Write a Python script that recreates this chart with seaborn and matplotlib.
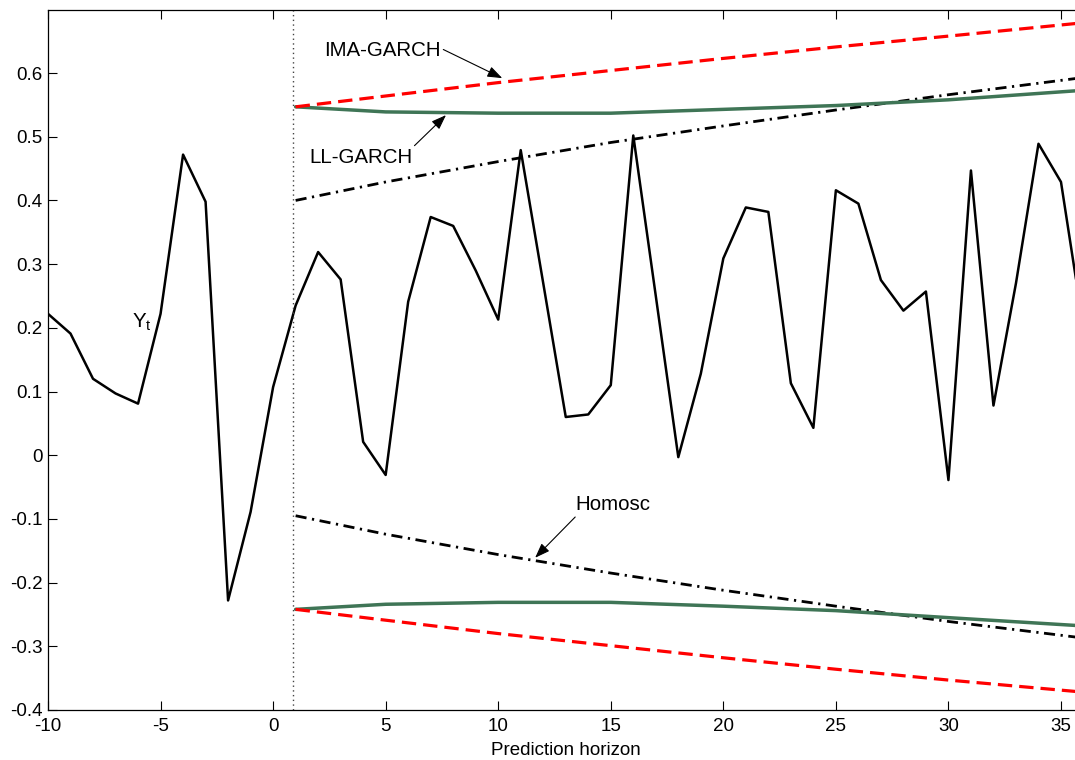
import numpy as np
import pandas as pd
import matplotlib
matplotlib.use("Agg")
import matplotlib.pyplot as plt
import seaborn as sns

# Observed series Y_t, t = -10 ... 36
t_obs = list(range(-10, 37))
y_obs = [0.222, 0.191, 0.120, 0.097, 0.081, 0.222, 0.472, 0.398, -0.228, -0.089,
         0.107, 0.235, 0.319, 0.276, 0.021, -0.031, 0.241, 0.374, 0.360, 0.290,
         0.213, 0.479, 0.270, 0.060, 0.064, 0.110, 0.502, 0.250, -0.003, 0.128,
         0.309, 0.389, 0.382, 0.113, 0.043, 0.416, 0.395, 0.275, 0.227, 0.257,
         -0.039, 0.447, 0.078, 0.270, 0.489, 0.429, 0.200]

# Prediction-interval bounds by forecast horizon
h = [1, 5, 10, 15, 20, 25, 30, 36]
ima_upper = [0.547, 0.564, 0.585, 0.604, 0.623, 0.641, 0.658, 0.679]
ima_lower = [-0.242, -0.259, -0.280, -0.299, -0.318, -0.336, -0.353, -0.372]
ll_upper = [0.547, 0.539, 0.537, 0.537, 0.543, 0.549, 0.558, 0.573]
ll_lower = [-0.242, -0.234, -0.231, -0.231, -0.237, -0.244, -0.255, -0.268]
hom_upper = [0.400, 0.429, 0.461, 0.491, 0.517, 0.542, 0.566, 0.593]
hom_lower = [-0.095, -0.124, -0.156, -0.185, -0.212, -0.237, -0.261, -0.287]

forecast_origin = 0.9

x_ticks = [-10, -5, 0, 5, 10, 15, 20, 25, 30, 35]
x_tick_labels = ["-10", "-5", "0", "5", "10", "15", "20", "25", "30", "35"]
y_ticks = [-0.4, -0.3, -0.2, -0.1, 0.0, 0.1, 0.2, 0.3, 0.4, 0.5, 0.6]
y_tick_labels = ["-0.4", "-0.3", "-0.2", "-0.1", "0", "0.1", "0.2", "0.3", "0.4", "0.5", "0.6"]

sns.set_style("ticks")
plt.rcParams["font.family"] = ["Liberation Sans", "DejaVu Sans"]
plt.rcParams["axes.unicode_minus"] = False
plt.rcParams["mathtext.fontset"] = "custom"
plt.rcParams["mathtext.rm"] = "Liberation Sans"
plt.rcParams["text.color"] = "black"
plt.rcParams["axes.labelcolor"] = "black"

W, H = 1075, 760
fig = plt.figure(figsize=(W / 100, H / 100), dpi=100)
ax = fig.add_axes([48 / W, 50 / H, (1083.5 - 48) / W, 700 / H])

RED = "#ff0000"
GREEN = "#3f7556"

# interval bounds
for up, lo, col, ls, lw in [
    (hom_upper, hom_lower, "black", (0, (4.0, 2.0, 0.8, 2.0)), 2.0),
    (ll_upper, ll_lower, GREEN, "-", 2.5),
    (ima_upper, ima_lower, RED, (0, (4.5, 2.2)), 2.3),
]:
    for vals in (up, lo):
        sns.lineplot(x=h, y=vals, ax=ax, color=col, linestyle=ls, lw=lw,
                     sort=False, estimator=None, errorbar=None)

# observed series
sns.lineplot(x=t_obs, y=y_obs, ax=ax, color="black", lw=1.8,
             sort=False, estimator=None, errorbar=None)

ax.axvline(forecast_origin, color="#444444", lw=1.0, linestyle=(0, (1, 2.4)))

ax.set_xlim(-10, 36)
ax.set_ylim(-0.4, 0.699)
ax.set_xticks(x_ticks)
ax.set_xticklabels(x_tick_labels)
ax.set_yticks(y_ticks)
ax.set_yticklabels(y_tick_labels)

for s in ax.spines.values():
    s.set_visible(True)
    s.set_linewidth(0.9)
    s.set_color("black")
ax.tick_params(direction="in", length=6.5, width=0.8, top=True, right=True,
               labelsize=13.5, colors="black", pad=4)
ax.tick_params(axis="x", pad=6)
ax.set_xlabel("Prediction horizon", fontsize=13.5, labelpad=5)
ax.set_ylabel("")

# labels and pointers
arrow = dict(arrowstyle="-|>,head_length=0.9,head_width=0.33", color="black",
             lw=0.8, shrinkA=0, shrinkB=0)
lab_fs = 14.8
ax.text(7.45, 0.636, "IMA-GARCH", ha="right", va="center", fontsize=lab_fs)
ax.annotate("", xy=(10.18, 0.592), xytext=(7.56, 0.637), arrowprops=arrow)
ax.text(6.2, 0.467, "LL-GARCH", ha="right", va="center", fontsize=lab_fs)
ax.annotate("", xy=(7.68, 0.534), xytext=(6.28, 0.486), arrowprops=arrow)
ax.text(15.1, -0.077, "Homosc", ha="center", va="center", fontsize=lab_fs)
ax.annotate("", xy=(11.64, -0.161), xytext=(13.42, -0.097), arrowprops=arrow)
ax.text(-6.27, 0.200, r"Y$_\mathregular{t}$", ha="left", va="baseline", fontsize=lab_fs)

fig.savefig("out.png", dpi=100)
